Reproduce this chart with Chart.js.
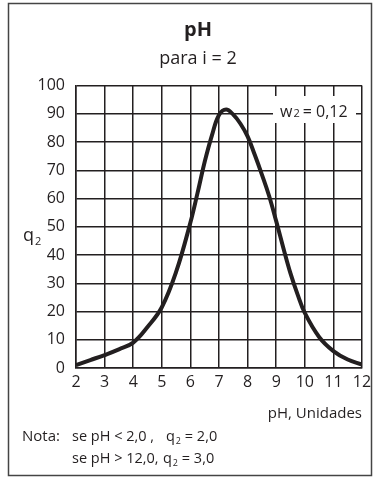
<!DOCTYPE html>
<html>
<head>
<meta charset="utf-8">
<script src="https://cdn.jsdelivr.net/npm/chart.js"></script>
<style>
  html, body { margin: 0; padding: 0; background: #fff; }
  #wrap { width: 378px; height: 478px; position: relative; }
</style>
</head>
<body>
<div id="wrap"><canvas id="q2chart" width="378" height="478"></canvas></div>
<script>
// curve
var phValues = [2, 2.5, 3, 3.5, 4, 4.5, 5, 5.5, 6, 6.25, 6.5, 6.75, 7, 7.25, 7.5, 7.75, 8, 8.25, 8.5, 8.75, 9, 9.25, 9.5, 9.75, 10, 10.5, 11, 11.5, 12];
var q2Values = [1, 2.8, 4.6, 6.6, 9, 14.5, 21.5, 34, 51.5, 62, 73, 82.3, 89.6, 91.5, 89.7, 86.5, 82, 75.5, 68.5, 61, 52, 42.5, 33.5, 26, 19.5, 11, 6, 3, 1.2];
var xTicks = [2, 3, 4, 5, 6, 7, 8, 9, 10, 11, 12];
var yTicks = [0, 10, 20, 30, 40, 50, 60, 70, 80, 90, 100];

var INK = '#231f20';
var FONT = '"Open Sans", "Liberation Sans", sans-serif';

function subText(ctx, x, y, base, sub, rest, size) {
    ctx.font = size + 'px ' + FONT;
    ctx.fillText(base, x, y);
    x += ctx.measureText(base).width + 1;
    ctx.font = Math.round(size * 0.62) + 'px ' + FONT;
    ctx.fillText(sub, x, y + size * 0.3);
    x += ctx.measureText(sub).width;
    ctx.font = size + 'px ' + FONT;
    ctx.fillText(rest, x, y);
}

var extras = {
    id: 'extras',
    afterDraw: function (chart) {
        var ctx = chart.ctx;
        ctx.save();
        ctx.textAlign = 'left';
        ctx.textBaseline = 'middle';

        // w2 label box over the grid
        ctx.fillStyle = '#fff';
        ctx.fillRect(273, 96, 83, 27);
        ctx.fillStyle = INK;
        ctx.font = '16px ' + FONT;
        ctx.fillText('w', 280, 112);
        var wx = 280 + ctx.measureText('w').width + 1;
        ctx.font = '11px ' + FONT;
        ctx.fillText('2', wx, 114);
        wx += ctx.measureText('2').width + 3;
        ctx.font = '16px ' + FONT;
        ctx.fillText('= 0,12', wx, 112);

        // y axis label
        subText(ctx, 23, 236, 'q', '2', '', 18);

        // note
        ctx.font = '15px ' + FONT;
        ctx.fillText('Nota:', 22, 437);
        ctx.font = '14.5px ' + FONT;
        ctx.fillText('se pH < 2,0 ,', 72, 437);
        subText(ctx, 166, 437, 'q', '2', ' = 2,0', 14.5);
        ctx.font = '14.5px ' + FONT;
        ctx.fillText('se pH > 12,0,', 72, 459);
        subText(ctx, 163, 459, 'q', '2', ' = 3,0', 14.5);

        // outer frame
        ctx.strokeStyle = '#444';
        ctx.lineWidth = 1.5;
        ctx.strokeRect(8.5, 3.5, 363, 472);
        ctx.restore();
    }
};

var points = phValues.map(function (x, i) { return { x: x, y: q2Values[i] }; });

new Chart(document.getElementById('q2chart'), {
    type: 'line',
    data: {
        datasets: [{
            data: points,
            borderColor: INK,
            borderWidth: 4,
            pointRadius: 0,
            fill: false,
            tension: 0.4
        }]
    },
    options: {
        responsive: false,
        animation: false,
        devicePixelRatio: 1,
        layout: { padding: { left: 34, right: 16, top: 0, bottom: 0 } },
        plugins: {
            legend: { display: false },
            tooltip: { enabled: false },
            title: {
                display: true,
                text: 'pH',
                color: INK,
                font: { family: FONT, size: 20, weight: 'bold' },
                padding: { top: 18, bottom: 0 }
            },
            subtitle: {
                display: true,
                text: 'para i = 2',
                color: INK,
                font: { family: FONT, size: 18 },
                padding: { top: 6, bottom: 16 }
            }
        },
        scales: {
            x: {
                type: 'linear',
                min: 2,
                max: 12,
                afterBuildTicks: function (s) { s.ticks = xTicks.map(function (v) { return { value: v }; }); },
                afterFit: function (s) { s.height = 110; },
                grid: { color: INK, lineWidth: 1.5, drawTicks: false },
                border: { color: INK, width: 1.5 },
                ticks: { color: INK, padding: 5, maxRotation: 0, font: { family: FONT, size: 16 } },
                title: {
                    display: true,
                    text: 'pH, Unidades',
                    align: 'end',
                    color: INK,
                    font: { family: FONT, size: 15 },
                    padding: { top: 0, bottom: 55 }
                }
            },
            y: {
                min: 0,
                max: 100,
                afterBuildTicks: function (s) { s.ticks = yTicks.map(function (v) { return { value: v }; }); },
                afterFit: function (s) { s.width = 42; },
                grid: { color: INK, lineWidth: 1.5, drawTicks: false },
                border: { color: INK, width: 1.5 },
                ticks: { color: INK, padding: 11, font: { family: FONT, size: 16 } }
            }
        }
    },
    plugins: [extras]
});
</script>
</body>
</html>
